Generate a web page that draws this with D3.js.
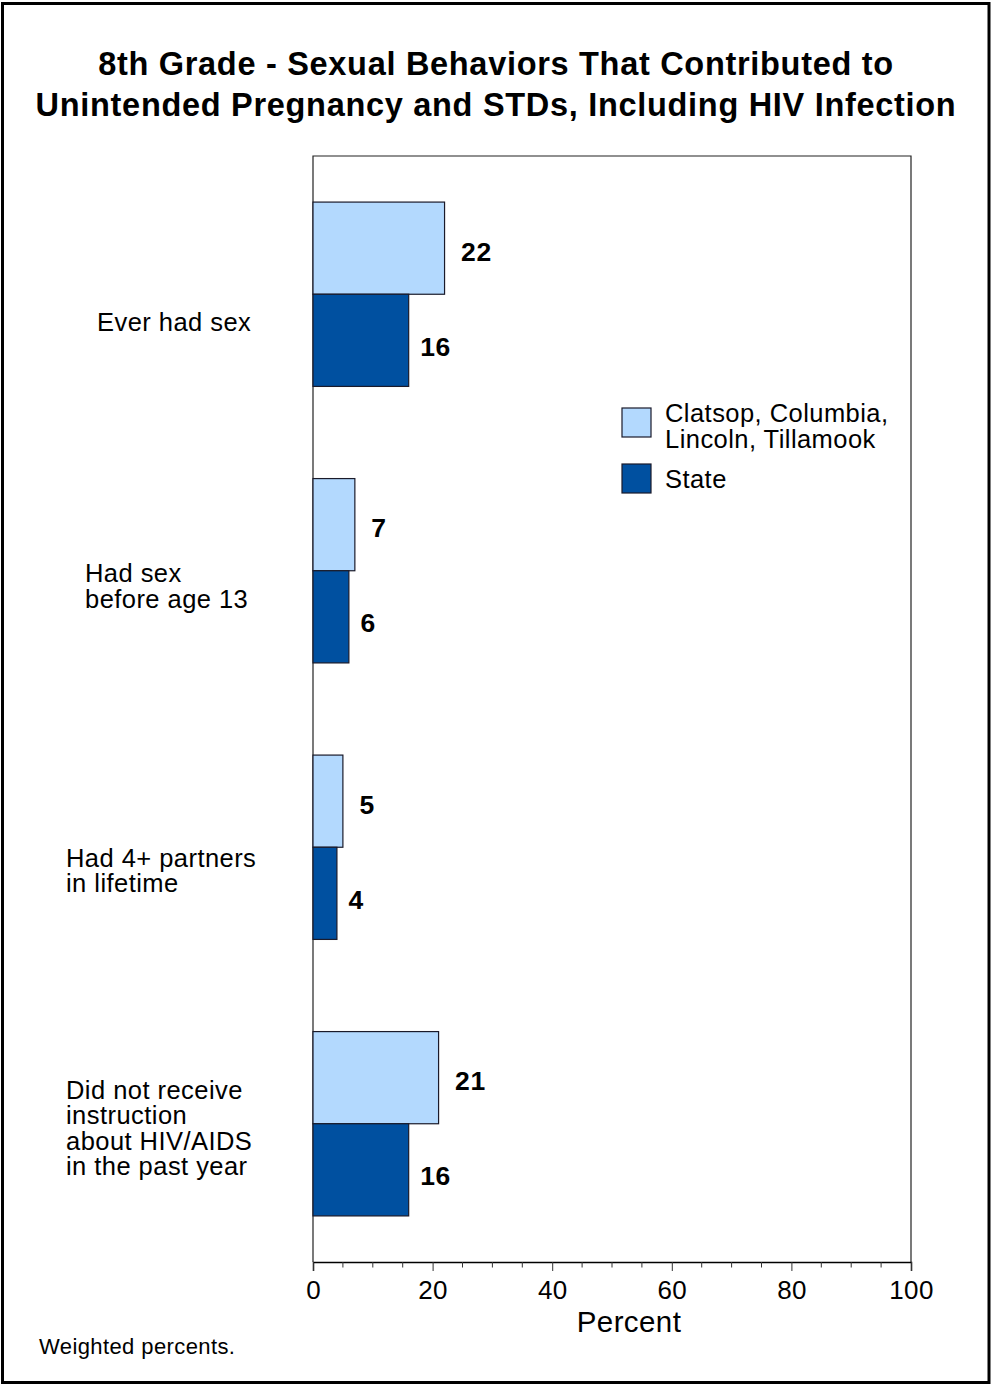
<!DOCTYPE html>
<html><head><meta charset="utf-8">
<script src="https://cdn.jsdelivr.net/npm/d3@7"></script>
<style>body{margin:0;background:#fff}svg{display:block;font-family:"Liberation Sans",Arial,sans-serif}</style>
</head><body>
<script>
const categories = [
  ["Ever had sex"],
  ["Had sex", "before age 13"],
  ["Had 4+ partners", "in lifetime"],
  ["Did not receive", "instruction", "about HIV/AIDS", "in the past year"]
];
const seriesNames = [["Clatsop, Columbia,", "Lincoln, Tillamook"], ["State"]];
const regionValues = [22, 7, 5, 21];
const stateValues = [16, 6, 4, 16];
const xTicks = [0, 20, 40, 60, 80, 100];
const titleLines = ["8th Grade - Sexual Behaviors That Contributed to", "Unintended Pregnancy and STDs, Including HIV Infection"];
const footnote = "Weighted percents.";
const axisTitle = "Percent";

const W = 991, H = 1385;
const colors = ["#b3d9fe", "#0050a0"];
const svg = d3.select("body").append("svg").attr("width", W).attr("height", H);

svg.append("rect").attr("x", 2.5).attr("y", 3.5).attr("width", 986.5).attr("height", 1379)
  .attr("fill", "#fff").attr("stroke", "#000").attr("stroke-width", 3);

svg.append("g").selectAll("text").data(titleLines).join("text")
  .attr("x", 496).attr("y", (d, i) => 75 + i * 41)
  .attr("text-anchor", "middle").attr("font-size", 32.5).attr("font-weight", "bold")
  .attr("letter-spacing", 0.7).text(d => d);

const L = 313, R = 911, T = 156, B = 1262;
const x = d3.scaleLinear().domain([0, 100]).range([L, R]);
const y = d3.scaleBand().domain(d3.range(categories.length)).range([T, B]).paddingInner(1/3).paddingOuter(1/6);
const y2 = d3.scaleBand().domain([0, 1]).range([0, y.bandwidth()]);

// frame
svg.append("path").attr("d", `M${L},${B}V${T}H${R}V${B}`).attr("fill", "none").attr("stroke", "#222").attr("stroke-width", 1.2);

const series = [regionValues, stateValues];
const labelDx = [16.5, 11.5], labelDy = [12.5, 15.5];
const g = svg.append("g");
series.forEach((vals, s) => {
  g.selectAll(null).data(vals).join("rect")
    .attr("x", x(0)).attr("y", (d, i) => y(i) + y2(s))
    .attr("width", d => x(d) - x(0)).attr("height", y2.bandwidth())
    .attr("fill", colors[s]).attr("stroke", "#1a1a2a").attr("stroke-width", 1.2);
  g.selectAll(null).data(vals).join("text")
    .attr("x", d => x(d) + labelDx[s])
    .attr("y", (d, i) => y(i) + y2(s) + y2.bandwidth() / 2 + labelDy[s])
    .attr("font-size", 26.5).attr("font-weight", "bold").attr("letter-spacing", 0.6).text(d => d);
});

// category labels (layout: left edge and vertical shift per block)
const labelShift = [29, 16, 24, 5];
const labelLeft = [97, 85, 66, 66];
categories.forEach((lines, i) => {
  const cy = y(i) + y.bandwidth() / 2 + labelShift[i];
  const t = svg.append("text").attr("font-size", 25.5).attr("letter-spacing", 0.45);
  const n = lines.length;
  lines.forEach((ln, j) => {
    t.append("tspan").attr("x", labelLeft[i]).attr("y", cy + (j - (n - 1) / 2) * 25.5 + 8).text(ln);
  });
});

// x axis
const ax = svg.append("g").attr("transform", `translate(0,${B})`);
ax.call(d3.axisBottom(x).tickValues(xTicks).tickSize(9).tickPadding(10).tickFormat(d3.format("d")));
ax.select(".domain").attr("stroke", "#000").attr("stroke-width", 1.5);
ax.selectAll(".tick line").attr("stroke", "#333");
ax.selectAll(".tick text").attr("font-size", 26).attr("fill", "#000").attr("letter-spacing", 0.3)
  .attr("font-family", "Liberation Sans, Arial, sans-serif");
ax.selectAll(null).data(d3.range(0, 101, 5).filter(v => v % 20 !== 0)).join("line")
  .attr("x1", d => x(d)).attr("x2", d => x(d)).attr("y1", 0).attr("y2", 5.5).attr("stroke", "#333");

svg.append("text").attr("x", 629).attr("y", 1332).attr("text-anchor", "middle").attr("font-size", 29.5)
  .attr("letter-spacing", 0.4).text(axisTitle);

// legend
const lg = svg.append("g");
const legendY = [408, 464];
seriesNames.forEach((lines, s) => {
  lg.append("rect").attr("x", 622).attr("y", legendY[s]).attr("width", 29).attr("height", 29)
    .attr("fill", colors[s]).attr("stroke", "#1a1a2a").attr("stroke-width", 1.2);
  lines.forEach((ln, j) => {
    lg.append("text").attr("x", 665).attr("y", legendY[s] + 14 + j * 26 + (lines.length === 1 ? 10 : 0))
      .attr("font-size", 25.5).attr("letter-spacing", 0.45).text(ln);
  });
});

svg.append("text").attr("x", 39).attr("y", 1354).attr("font-size", 22).attr("letter-spacing", 0.4).text(footnote);
</script>
</body></html>
